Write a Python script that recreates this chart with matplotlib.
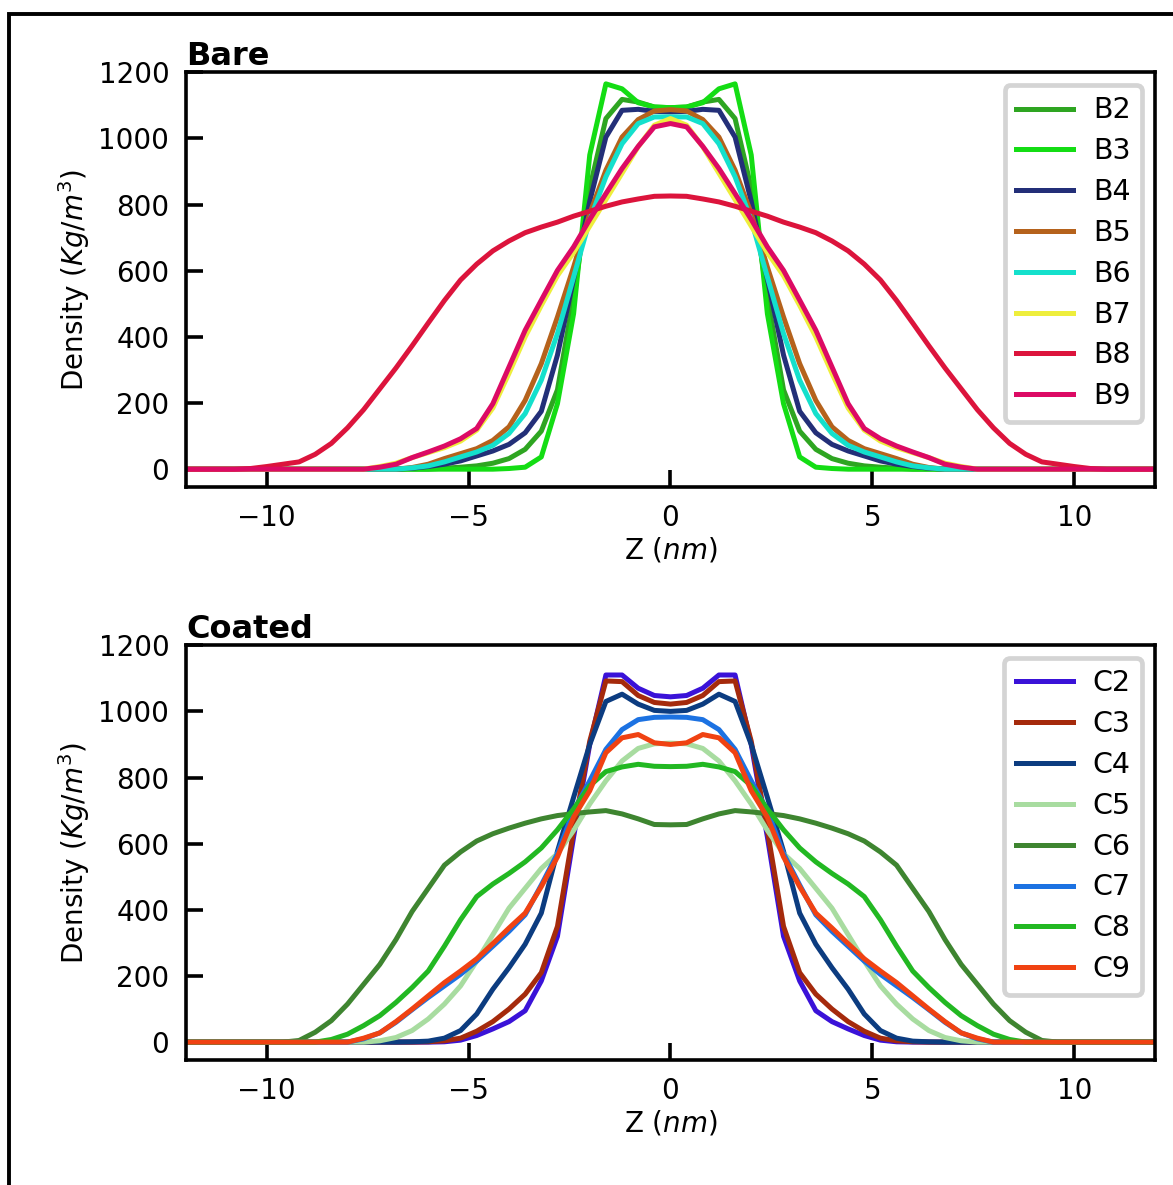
import matplotlib
matplotlib.use("Agg")
import matplotlib.pyplot as plt
from matplotlib.patches import Rectangle

# Z positions (nm)
Z = [-12.0, -11.6, -11.2, -10.8, -10.4, -10.0, -9.6, -9.2, -8.8, -8.4,
     -8.0, -7.6, -7.2, -6.8, -6.4, -6.0, -5.6, -5.2, -4.8, -4.4,
     -4.0, -3.6, -3.2, -2.8, -2.4, -2.0, -1.6, -1.2, -0.8, -0.4,
     0.0, 0.4, 0.8, 1.2, 1.6, 2.0, 2.4, 2.8, 3.2, 3.6,
     4.0, 4.4, 4.8, 5.2, 5.6, 6.0, 6.4, 6.8, 7.2, 7.6,
     8.0, 8.4, 8.8, 9.2, 9.6, 10.0, 10.4, 10.8, 11.2, 11.6, 12.0]

# ---- Bare ----
B2 = [0, 0, 0, 0, 0, 0, 0, 0, 0, 0,
      0, 0, 0, 0, 0, 0, 3, 6, 10, 18,
      32, 60, 115, 240, 520, 850, 1060, 1118, 1110, 1095,
      1093, 1095, 1110, 1118, 1060, 850, 520, 240, 115, 60,
      32, 18, 10, 6, 3, 0, 0, 0, 0, 0,
      0, 0, 0, 0, 0, 0, 0, 0, 0, 0, 0]
B3 = [0, 0, 0, 0, 0, 0, 0, 0, 0, 0,
      0, 0, 0, 0, 0, 0, 0, 0, 0, 0,
      2, 6, 37, 198, 470, 950, 1165, 1150, 1108, 1095,
      1093, 1095, 1108, 1150, 1165, 950, 470, 198, 37, 6,
      2, 0, 0, 0, 0, 0, 0, 0, 0, 0,
      0, 0, 0, 0, 0, 0, 0, 0, 0, 0, 0]
B4 = [0, 0, 0, 0, 0, 0, 0, 0, 0, 0,
      0, 0, 0, 0, 3, 8, 15, 25, 40, 55,
      75, 110, 175, 345, 575, 810, 1004, 1085, 1088, 1082,
      1080, 1082, 1088, 1085, 1004, 810, 575, 345, 175, 110,
      75, 55, 40, 25, 15, 8, 3, 0, 0, 0,
      0, 0, 0, 0, 0, 0, 0, 0, 0, 0, 0]
B5 = [0, 0, 0, 0, 0, 0, 0, 0, 0, 0,
      0, 0, 0, 0, 5, 15, 32, 47, 62, 87,
      128, 208, 319, 460, 611, 773, 904, 1004, 1057, 1083,
      1087, 1083, 1057, 1004, 904, 773, 611, 460, 319, 208,
      128, 87, 62, 47, 32, 15, 5, 0, 0, 0,
      0, 0, 0, 0, 0, 0, 0, 0, 0, 0, 0]
B6 = [0, 0, 0, 0, 0, 0, 0, 0, 0, 0,
      0, 0, 0, 0, 4, 10, 22, 37, 52, 72,
      108, 168, 269, 410, 581, 753, 884, 984, 1045, 1065,
      1065, 1065, 1045, 984, 884, 753, 581, 410, 269, 168,
      108, 72, 52, 37, 22, 10, 4, 0, 0, 0,
      0, 0, 0, 0, 0, 0, 0, 0, 0, 0, 0]
B7 = [0, 0, 0, 0, 0, 0, 0, 0, 0, 0,
      0, 0, 8, 18, 35, 50, 65, 85, 118, 185,
      290, 400, 495, 585, 655, 735, 815, 895, 975, 1040,
      1060, 1040, 975, 895, 815, 735, 655, 585, 495, 400,
      290, 185, 118, 85, 65, 50, 35, 18, 8, 0,
      0, 0, 0, 0, 0, 0, 0, 0, 0, 0, 0]
B8 = [0, 0, 0, 0, 2, 8, 15, 22, 45, 78,
      125, 180, 243, 306, 373, 442, 510, 572, 620, 660,
      690, 715, 732, 747, 765, 780, 795, 808, 817, 825,
      826, 825, 817, 808, 795, 780, 765, 747, 732, 715,
      690, 660, 620, 572, 510, 442, 373, 306, 243, 180,
      125, 78, 45, 22, 15, 8, 2, 0, 0, 0, 0]
B9 = [0, 0, 0, 0, 0, 0, 0, 0, 0, 0,
      0, 0, 6, 15, 35, 52, 70, 92, 123, 198,
      309, 420, 511, 601, 672, 755, 833, 909, 976, 1035,
      1045, 1035, 976, 909, 833, 755, 672, 601, 511, 420,
      309, 198, 123, 92, 70, 52, 35, 15, 6, 0,
      0, 0, 0, 0, 0, 0, 0, 0, 0, 0, 0]

# ---- Coated ----
C2 = [0, 0, 0, 0, 0, 0, 0, 0, 0, 0,
      0, 0, 0, 0, 0, 0, 1, 6, 20, 40,
      62, 95, 185, 320, 620, 900, 1110, 1110, 1070, 1048,
      1044, 1048, 1070, 1110, 1110, 900, 620, 320, 185, 95,
      62, 40, 20, 6, 1, 0, 0, 0, 0, 0,
      0, 0, 0, 0, 0, 0, 0, 0, 0, 0, 0]
C3 = [0, 0, 0, 0, 0, 0, 0, 0, 0, 0,
      0, 0, 0, 0, 0, 1, 4, 12, 33, 62,
      100, 145, 210, 350, 640, 910, 1092, 1090, 1048, 1027,
      1022, 1027, 1048, 1090, 1092, 910, 640, 350, 210, 145,
      100, 62, 33, 12, 4, 1, 0, 0, 0, 0,
      0, 0, 0, 0, 0, 0, 0, 0, 0, 0, 0]
C4 = [0, 0, 0, 0, 0, 0, 0, 0, 0, 0,
      0, 0, 0, 0, 1, 3, 12, 35, 85, 160,
      225, 296, 390, 577, 740, 900, 1030, 1052, 1022, 1003,
      1000, 1003, 1022, 1052, 1030, 900, 740, 577, 390, 296,
      225, 160, 85, 35, 12, 3, 1, 0, 0, 0,
      0, 0, 0, 0, 0, 0, 0, 0, 0, 0, 0]
C5 = [0, 0, 0, 0, 0, 0, 0, 0, 0, 0,
      0, 0, 4, 14, 35, 70, 115, 170, 245, 325,
      405, 465, 525, 570, 640, 720, 790, 850, 888, 902,
      904, 902, 888, 850, 790, 720, 640, 570, 525, 465,
      405, 325, 245, 170, 115, 70, 35, 14, 4, 0,
      0, 0, 0, 0, 0, 0, 0, 0, 0, 0, 0]
C6 = [0, 0, 0, 0, 0, 0, 0, 5, 30, 65,
      115, 175, 235, 310, 395, 465, 535, 575, 608, 630,
      647, 662, 675, 685, 691, 696, 700, 690, 675, 658,
      657, 658, 675, 690, 700, 696, 691, 685, 675, 662,
      647, 630, 608, 575, 535, 465, 395, 310, 235, 175,
      115, 65, 30, 5, 0, 0, 0, 0, 0, 0, 0]
C7 = [0, 0, 0, 0, 0, 0, 0, 0, 0, 0,
      0, 10, 28, 60, 98, 135, 170, 205, 245, 290,
      335, 385, 475, 570, 700, 790, 885, 945, 975, 982,
      983, 982, 975, 945, 885, 790, 700, 570, 475, 385,
      335, 290, 245, 205, 170, 135, 98, 60, 28, 10,
      0, 0, 0, 0, 0, 0, 0, 0, 0, 0, 0]
C8 = [0, 0, 0, 0, 0, 0, 0, 0, 0, 8,
      24, 50, 80, 120, 165, 215, 290, 370, 440, 478,
      510, 545, 587, 642, 705, 775, 818, 832, 840, 834,
      833, 834, 840, 832, 818, 775, 705, 642, 587, 545,
      510, 478, 440, 370, 290, 215, 165, 120, 80, 50,
      24, 8, 0, 0, 0, 0, 0, 0, 0, 0, 0]
C9 = [0, 0, 0, 0, 0, 0, 0, 0, 0, 0,
      0, 12, 28, 62, 100, 140, 180, 215, 252, 298,
      345, 390, 470, 560, 680, 760, 875, 920, 930, 905,
      900, 905, 930, 920, 875, 760, 680, 560, 470, 390,
      345, 298, 252, 215, 180, 140, 100, 62, 28, 12,
      0, 0, 0, 0, 0, 0, 0, 0, 0, 0, 0]

bare_names = ["B2", "B3", "B4", "B5", "B6", "B7", "B8", "B9"]
bare_data = [B2, B3, B4, B5, B6, B7, B8, B9]
bare_colors = ["#2ea521", "#14dd14", "#232f78", "#b5621c",
               "#14e0cc", "#eeee3c", "#dc143c", "#dc0a64"]

coated_names = ["C2", "C3", "C4", "C5", "C6", "C7", "C8", "C9"]
coated_data = [C2, C3, C4, C5, C6, C7, C8, C9]
coated_colors = ["#3a12d8", "#a52a0c", "#0c3c80", "#a8dca0",
                 "#3e8530", "#1c72e2", "#22b822", "#f04212"]


def draw(ax, names, data, colors, title):
    for name, vals, col in zip(names, data, colors):
        ax.plot(Z, vals, color=col, lw=3.6, label=name)
    ax.set_xlim(-12, 12)
    ax.set_ylim(-54, 1200)
    ax.set_xticks([-10, -5, 0, 5, 10])
    ax.set_yticks([0, 200, 400, 600, 800, 1000, 1200])
    ax.tick_params(direction="in", length=12, width=2.6, labelsize=20, pad=12)
    for s in ax.spines.values():
        s.set_linewidth(2.6)
    ax.set_xlabel("Z ($nm$)", fontsize=20, labelpad=3)
    ax.set_ylabel("Density ($Kg/m^3$)", fontsize=20, labelpad=5)
    ax.set_title(title, loc="left", fontweight="bold", fontsize=23, pad=2)
    leg = ax.legend(loc="upper right", fontsize=20.5, frameon=True, fancybox=True,
                    framealpha=1, edgecolor="#d4d4d4", handlelength=2.0,
                    handletextpad=0.7, labelspacing=0.45, borderaxespad=0.45)
    leg.get_frame().set_linewidth(3.4)


fig = plt.figure(figsize=(11.73, 11.85), dpi=100)
ax1 = fig.add_axes([0.1586, 0.589, 0.826, 0.350])
ax2 = fig.add_axes([0.1586, 0.1055, 0.826, 0.350])

draw(ax1, bare_names, bare_data, bare_colors, "Bare")
draw(ax2, coated_names, coated_data, coated_colors, "Coated")

# outer frame (cut off at right and bottom like the original)
fig.patches.append(Rectangle((9 / 1173, -0.1), 1.2, 1.1 - 14 / 1185, transform=fig.transFigure,
                             fill=False, edgecolor="black", lw=2.8, clip_on=False))

fig.savefig("out.png", dpi=100)
